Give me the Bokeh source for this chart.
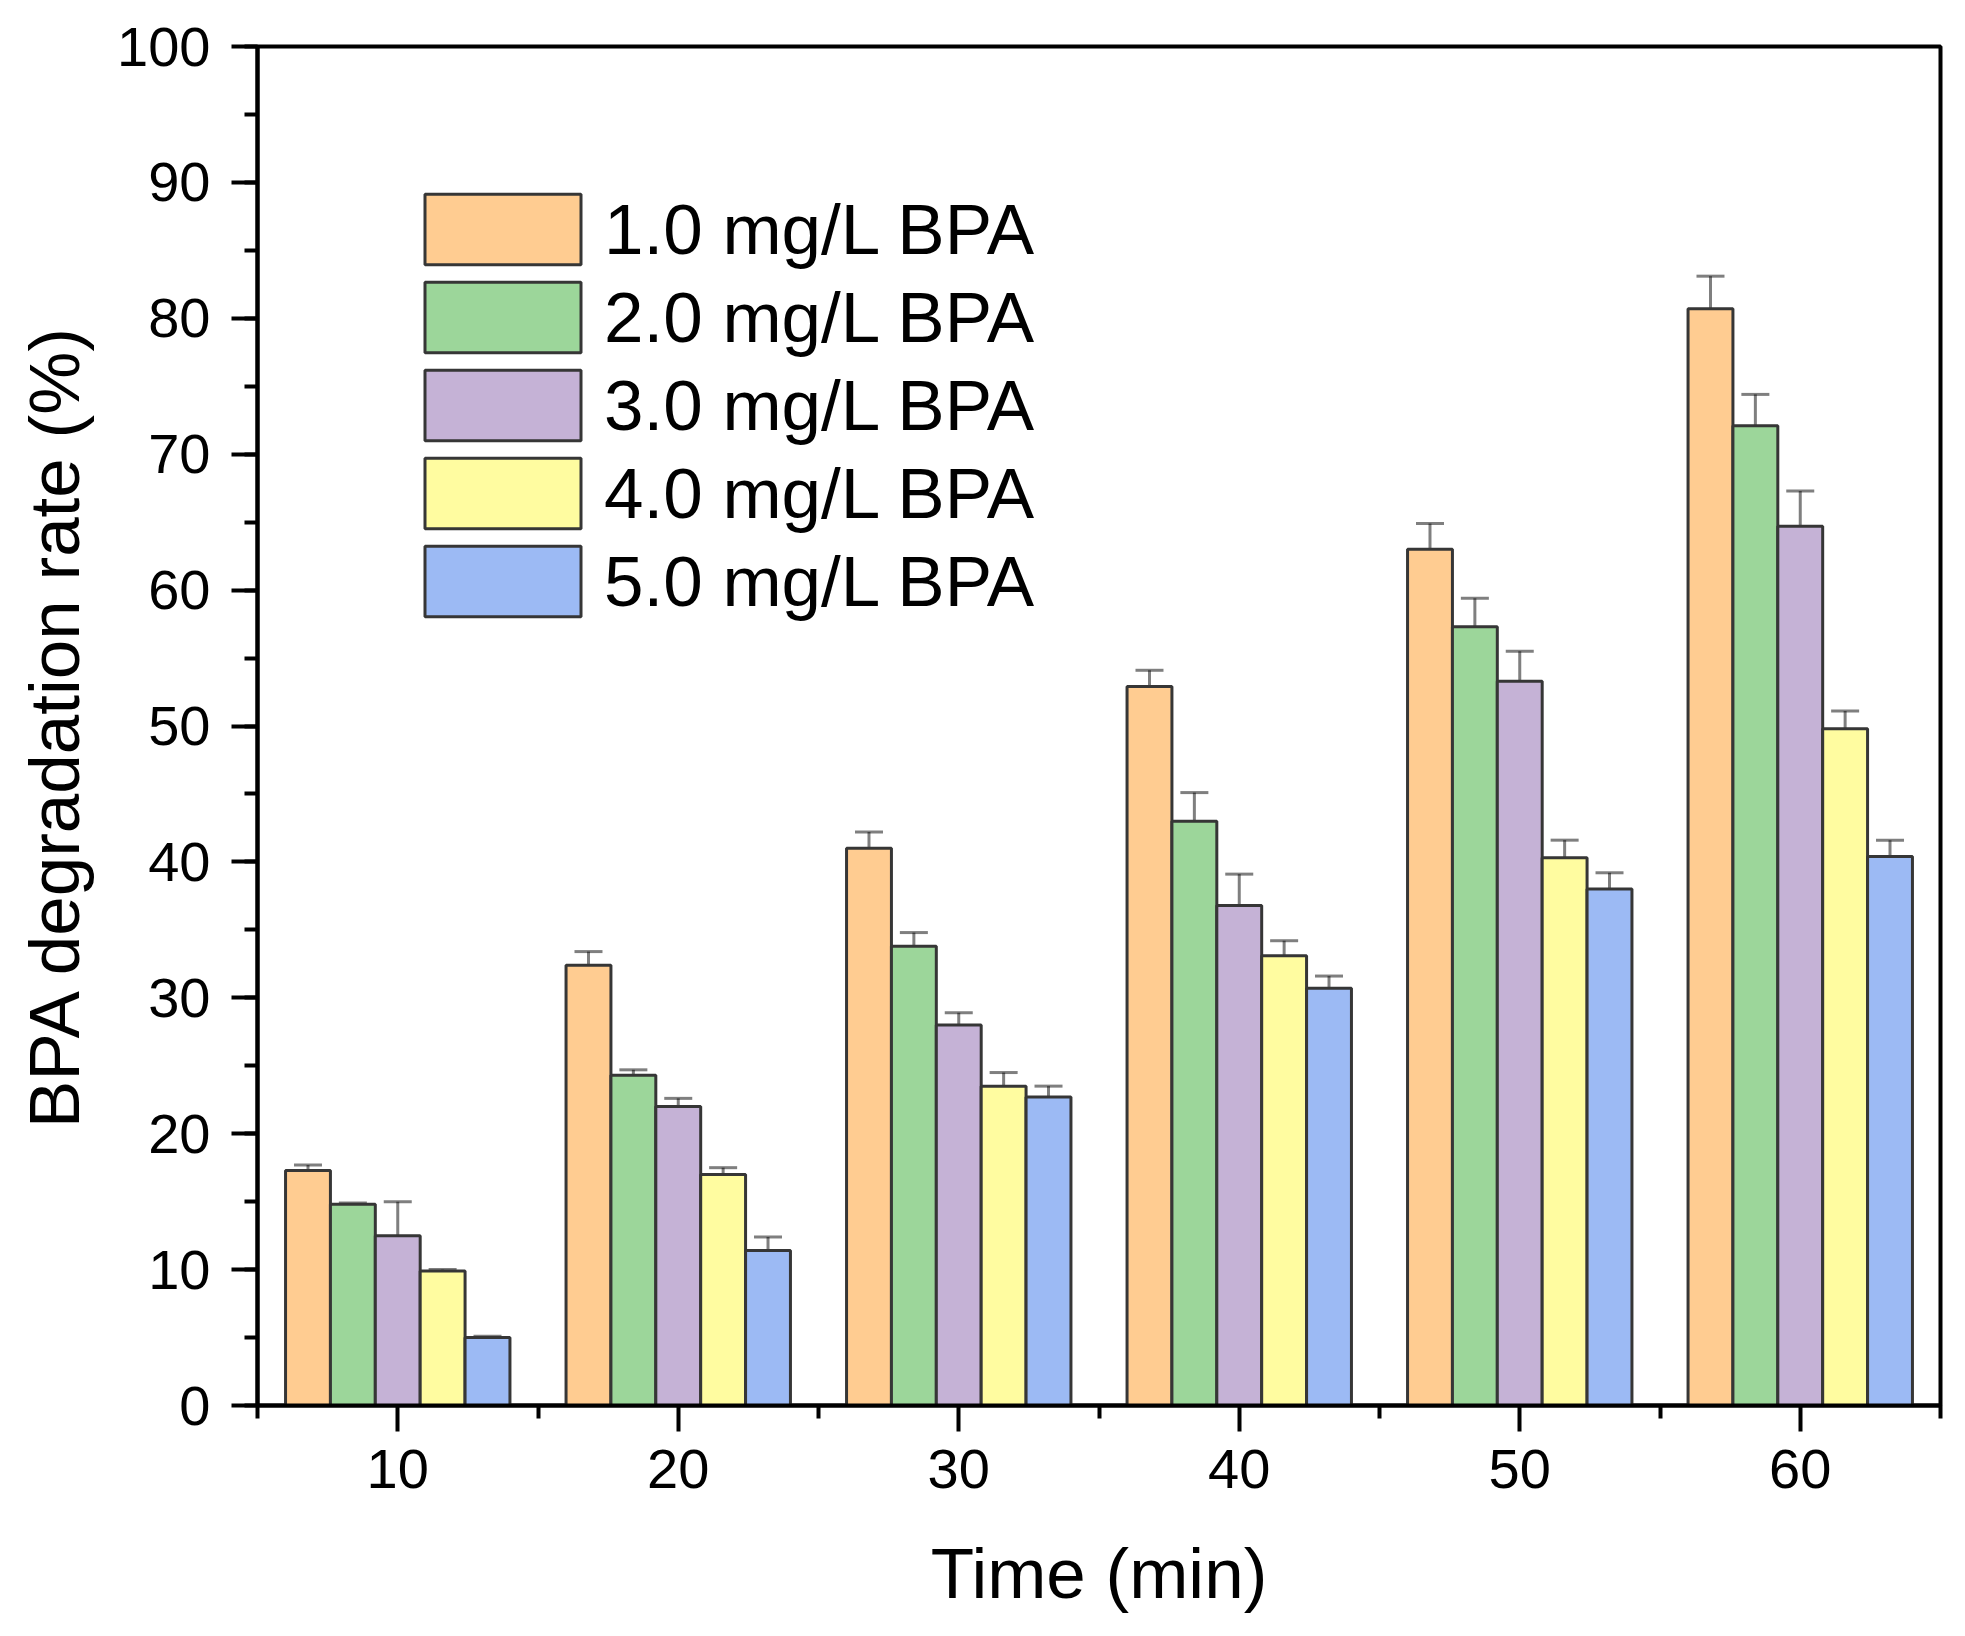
from bokeh.plotting import figure
from bokeh.models import (ColumnDataSource, Whisker, TeeHead, Legend, LegendItem,
                          FixedTicker, SingleIntervalTicker, Range1d)
from bokeh.embed import file_html
from bokeh.resources import INLINE

# data
time_min = [10, 20, 30, 40, 50, 60]
series_labels = ["1.0 mg/L BPA", "2.0 mg/L BPA", "3.0 mg/L BPA", "4.0 mg/L BPA", "5.0 mg/L BPA"]

rate_1 = [17.3, 32.4, 41.0, 52.9, 63.0, 80.7]
rate_2 = [14.8, 24.3, 33.8, 43.0, 57.3, 72.1]
rate_3 = [12.5, 22.0, 28.0, 36.8, 53.3, 64.7]
rate_4 = [9.9, 17.0, 23.5, 33.1, 40.3, 49.8]
rate_5 = [5.0, 11.4, 22.7, 30.7, 38.0, 40.4]

err_1 = [0.4, 1.0, 1.2, 1.2, 1.9, 2.4]
err_2 = [0.1, 0.4, 1.0, 2.1, 2.1, 2.3]
err_3 = [2.5, 0.6, 0.9, 2.3, 2.2, 2.6]
err_4 = [0.1, 0.5, 1.0, 1.1, 1.3, 1.3]
err_5 = [0.1, 1.0, 0.8, 0.9, 1.2, 1.2]

x_ticks = [10, 20, 30, 40, 50, 60]
x_minor = [5, 15, 25, 35, 45, 55, 65]

colors = ["#FFCC91", "#9CD69A", "#C5B2D6", "#FFFCA0", "#9CBAF4"]
rates = [rate_1, rate_2, rate_3, rate_4, rate_5]
errs = [err_1, err_2, err_3, err_4, err_5]

FONT = "Liberation Sans"
bar_w = 1.6

p = figure(frame_width=1683, frame_height=1359,
           min_border_left=257, min_border_right=10, min_border_top=46, min_border_bottom=215,
           x_range=Range1d(5, 65), y_range=Range1d(0, 100),
           output_backend="svg", toolbar_location=None, tools="")
p.grid.visible = False
p.outline_line_color = "black"
p.outline_line_width = 4

renderers = []
for i in range(5):
    off = (i - 2) * bar_w
    xs = [t + off for t in time_min]
    src = ColumnDataSource(dict(x=xs, top=rates[i],
                                upper=[r + e for r, e in zip(rates[i], errs[i])],
                                lower=[r - e for r, e in zip(rates[i], errs[i])]))
    r = p.vbar(x="x", top="top", width=bar_w, bottom=0, source=src,
               fill_color=colors[i], line_color="#363636", line_width=3)
    renderers.append(r)
    w = Whisker(base="x", upper="upper", lower="lower", source=src,
                line_color="black", line_alpha=0.5, line_width=3,
                upper_head=TeeHead(size=28, line_color="black", line_alpha=0.5, line_width=3),
                lower_head=TeeHead(size=28, line_color="black", line_alpha=0.5, line_width=3))
    p.add_layout(w)

# legend glyph rect is drawn inset by 10% of the glyph box
legend = Legend(items=[LegendItem(label=series_labels[i], renderers=[renderers[i]]) for i in range(5)],
                location=(148, 780), padding=0, margin=0, spacing=0,
                glyph_width=195, glyph_height=88, label_standoff=4,
                label_text_font=FONT, label_text_font_size="71px", label_text_color="black",
                border_line_color=None, background_fill_alpha=0)
p.add_layout(legend)

for ax in (p.xaxis[0], p.yaxis[0]):
    ax.axis_line_width = 4
    ax.axis_line_color = "black"
    ax.major_tick_line_width = 4
    ax.minor_tick_line_width = 4
    ax.major_tick_line_color = "black"
    ax.minor_tick_line_color = "black"
    ax.major_tick_in = 0
    ax.minor_tick_in = 0
    ax.major_tick_out = 26
    ax.minor_tick_out = 13
    ax.major_label_text_font = FONT
    ax.major_label_text_font_size = "56px"
    ax.major_label_text_color = "black"
    ax.axis_label_text_font = FONT
    ax.axis_label_text_font_size = "71px"
    ax.axis_label_text_font_style = "normal"
    ax.axis_label_text_color = "black"

p.xaxis.ticker = FixedTicker(ticks=x_ticks, minor_ticks=x_minor)
p.yaxis.ticker = SingleIntervalTicker(interval=10, num_minor_ticks=2)
p.xaxis.axis_label = "Time (min)"
p.yaxis.axis_label = "BPA degradation rate (%)"
p.xaxis.major_label_standoff = 18
p.yaxis.major_label_standoff = 21
p.xaxis.axis_label_standoff = 43
p.yaxis.axis_label_standoff = 20

open("out.html", "w").write(file_html(p, INLINE))
